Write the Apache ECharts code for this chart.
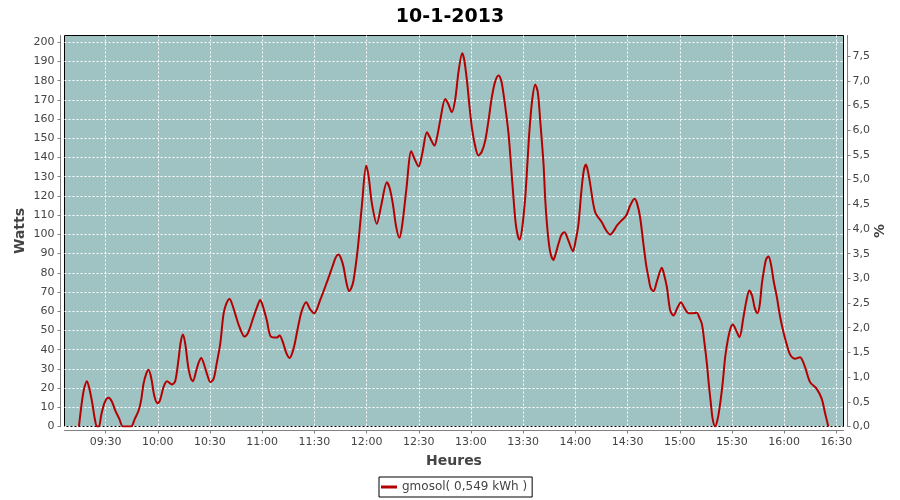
<!DOCTYPE html>
<html>
<head>
<meta charset="utf-8">
<script src="https://cdn.jsdelivr.net/npm/echarts@6/dist/echarts.min.js"></script>
<style>html,body{margin:0;padding:0;background:#fff}#c{width:900px;height:500px}</style>
</head>
<body>
<div id="c"></div>
<script>
// minutes after 09:00
var minutes = [14.7,16.0,17.5,19.3,20.6,22.4,23.8,25.1,26.2,27.5,29.5,31.7,33.6,35.6,37.9,40.0,44.6,46.8,49.0,50.5,51.8,53.4,54.7,56.3,58.0,59.9,61.4,63.3,65.3,68.2,70.0,71.8,73.2,74.5,75.8,77.5,79.0,80.2,82.1,83.6,85.0,86.7,88.4,90.2,92.1,93.9,95.9,97.8,99.4,101.3,102.8,104.5,107.0,109.9,112.0,115.0,117.2,118.9,120.6,122.7,125.0,128.5,130.0,131.9,133.8,135.7,138.0,140.6,142.7,145.3,147.6,149.9,153.4,157.2,160.3,162.3,163.9,165.5,166.8,168.4,170.0,171.2,172.5,175.0,177.3,179.8,181.2,183.1,185.9,188.4,191.7,193.3,195.1,197.0,198.9,200.5,202.8,205.7,207.7,209.9,212.0,214.7,216.6,219.0,220.6,222.3,225.2,226.9,229.0,230.9,232.9,235.0,236.1,237.7,239.0,240.5,242.4,244.3,246.2,248.2,250.2,252.0,253.9,255.8,257.4,258.7,260.2,261.6,263.1,264.4,266.0,267.9,269.4,271.2,272.3,273.6,275.2,276.9,278.4,279.8,281.7,282.7,284.0,285.5,287.4,288.7,290.3,291.9,293.7,295.9,298.6,300.2,301.8,303.4,304.8,306.1,307.4,308.5,311.4,315.2,317.4,320.0,322.0,323.9,326.3,329.2,331.5,334.0,335.5,337.2,339.1,340.7,342.0,343.3,344.9,347.0,349.7,351.0,352.6,354.5,356.4,358.5,360.7,362.5,365.0,367.1,369.8,371.1,372.7,374.0,375.6,376.7,377.9,378.9,380.3,381.8,383.2,384.7,386.1,387.8,389.3,390.5,392.4,394.3,396.6,398.2,400.0,401.6,403.0,404.6,405.9,407.2,408.5,409.6,411.0,412.5,413.9,415.8,417.7,419.6,421.4,423.4,426.3,429.1,432.0,434.9,438.7,441.6,443.5,445.4];
var watts = [0,10,19,23.6,20,12,4,0,0,6,12.5,14.9,13,8.3,4,0,0,4,8.3,14,22.2,27.5,29.5,25,16,12.1,14,20.5,23.6,21.9,23.6,34,44,47.9,43,31,25,23.6,29,33.5,35.7,32,27,23.1,24.8,33,43,58.6,64,66.4,63.5,58.6,51.7,46.8,49,56.9,62.5,65.9,62,55.2,46.8,46.3,47.4,43.9,38.5,35.7,40.4,51.7,60,64.7,61,59,66,75.1,83,88,89.5,87,82.9,75,70.4,72,76,93,115,135.8,130,115.9,105.5,115,127.1,124,115.9,104,98.2,105,122.8,143.3,139,135.3,142,153.2,150,146.2,151,159.2,170.5,168,163.6,170,185,194.3,191,180,168,155.8,146,141,143,148.8,160,171.4,179.5,182.7,180,173.1,163,152.3,135,119.3,103.7,97.2,103,119.3,135,154,170,178,174,159.2,136.7,118,102,91,86.7,90,95.1,99.5,101.1,97,91.2,97,105.5,122,133,136.3,132,126.3,111.5,106.3,102.5,99.9,101.8,104.6,107,109.8,115,118.5,116,108.9,95.1,84,77.7,72,70.4,76,82.6,79,72.5,60.4,57.8,61.5,64.7,62,59,59,59.2,57,53.4,45,32.6,22,11.8,4,0,4,11.8,23,36.1,46,51.5,53.1,50,46.5,56.9,65,70.8,68,62,59,63,74.3,82,87,88.5,84,76,67.3,57,49.1,43,37.5,35.3,36.1,30.9,23.1,19.6,14.4,7,0];
var xTicks = [30,60,90,120,150,180,210,240,270,300,330,360,390,420,450];
var leftTicks = [0,10,20,30,40,50,60,70,80,90,100,110,120,130,140,150,160,170,180,190,200];
var rightTicks = [0,0.5,1,1.5,2,2.5,3,3.5,4,4.5,5,5.5,6,6.5,7,7.5];
var titleText = '10-1-2013';
var seriesName = 'gmosol( 0,549 kWh )';

var FONT = 'DejaVu Sans';
var pts = minutes.map(function (m, i) { return [m, watts[i]]; });
function hhmm(v) {
  var t = Math.round(540 + v);
  var h = Math.floor(t / 60), m = t % 60;
  return (h < 10 ? '0' : '') + h + ':' + (m < 10 ? '0' : '') + m;
}
var axisLineStyle = { show: true, onZero: false, lineStyle: { color: '#808080', width: 1 } };
var labelStyle = { color: '#444444', fontSize: 11, fontFamily: FONT };
var nameStyle = { color: '#444444', fontSize: 14, fontWeight: 'bold', fontFamily: FONT };
var gridLine = { show: true, lineStyle: { color: '#ffffff', width: 1, type: [2, 2] } };

var chart = echarts.init(document.getElementById('c'), null, { renderer: 'canvas' });
chart.setOption({
  animation: false,
  backgroundColor: '#ffffff',
  title: { text: titleText, left: 'center', top: 3,
    textStyle: { fontSize: 19, fontWeight: 'bold', fontFamily: FONT, color: '#000' } },
  legend: { left: 379, top: 477, padding: [4, 5, 4, 2], itemGap: 5,
    borderColor: '#000', borderWidth: 1, backgroundColor: '#fff',
    icon: 'rect', itemWidth: 16, itemHeight: 3,
    textStyle: { fontSize: 12, color: '#444444', fontFamily: FONT },
    data: [seriesName] },
  grid: { left: 64.5, top: 35.5, width: 779, height: 391, show: true,
    backgroundColor: '#9fc3c2', borderColor: '#000000', borderWidth: 1,
    containLabel: false, outerBoundsMode: 'none' },
  xAxis: {
    type: 'value', min: 6.4, max: 454.1, offset: 4,
    name: 'Heures', nameLocation: 'middle', nameGap: 24, nameMoveOverlap: false, nameTextStyle: nameStyle,
    axisLine: axisLineStyle,
    axisTick: { show: true, length: 3, customValues: xTicks, lineStyle: { color: '#808080' } },
    axisLabel: Object.assign({ customValues: xTicks, margin: 6, formatter: hhmm }, labelStyle),
    splitLine: gridLine
  },
  yAxis: [{
    type: 'value', min: 0, max: 203.5, offset: 4, position: 'left',
    name: 'Watts', nameLocation: 'middle', nameGap: 33, nameRotate: 90, nameMoveOverlap: false, nameTextStyle: nameStyle,
    axisLine: axisLineStyle,
    axisTick: { show: true, length: 3, customValues: leftTicks, lineStyle: { color: '#808080' } },
    axisLabel: Object.assign({ customValues: leftTicks, margin: 6 }, labelStyle),
    splitLine: gridLine
  }, {
    type: 'value', min: 0, max: 7.918, offset: 4, position: 'right',
    name: '%', nameLocation: 'middle', nameGap: 26, nameRotate: 90, nameMoveOverlap: false, nameTextStyle: nameStyle,
    axisLine: axisLineStyle,
    axisTick: { show: true, length: 3, customValues: rightTicks, lineStyle: { color: '#808080' } },
    axisLabel: Object.assign({ customValues: rightTicks, margin: 5,
      formatter: function (v) { return v.toFixed(1).replace('.', ','); } }, labelStyle),
    splitLine: { show: false }
  }],
  series: [{
    name: seriesName, type: 'line', data: pts, yAxisIndex: 0,
    showSymbol: false, smooth: 0.3, clip: true,
    itemStyle: { color: '#b40000' },
    lineStyle: { color: '#b40000', width: 2 }
  }]
});
</script>
</body>
</html>
